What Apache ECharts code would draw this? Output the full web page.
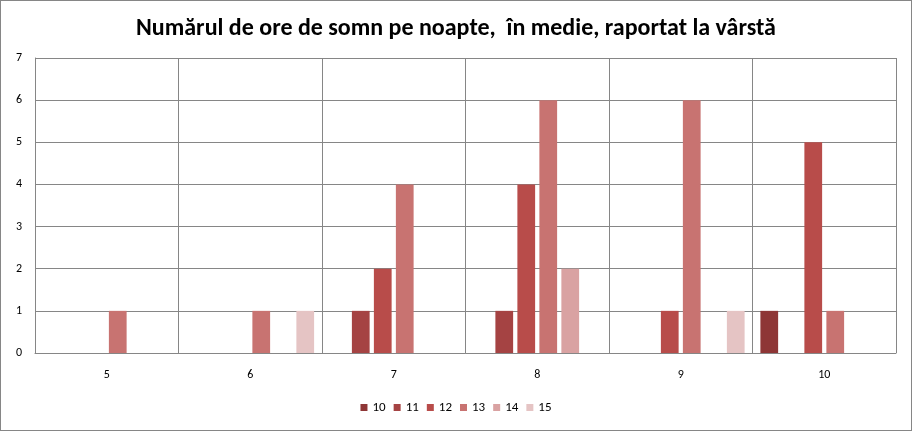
<!DOCTYPE html>
<html><head><meta charset="utf-8">
<script src="https://cdn.jsdelivr.net/npm/echarts@6/dist/echarts.min.js"></script>
<style>html,body{margin:0;padding:0;background:#fff}#c{width:912px;height:431px;box-sizing:border-box;border:1px solid #868686}</style>
</head><body><div id="c"></div>
<script>
const categories = ['5','6','7','8','9','10'];
const seriesNames = ['10','11','12','13','14','15'];
const s10 = [null,null,null,null,null,1];
const s11 = [null,null,1,1,null,null];
const s12 = [null,null,2,4,1,5];
const s13 = [1,1,4,6,6,1];
const s14 = [null,null,null,2,null,null];
const s15 = [null,1,null,null,1,null];
const yTicks = [0,1,2,3,4,5,6,7];
const colors = ['#8E3636','#A54343','#B84C4A','#C87371','#D9A2A2','#E5C4C4'];
const values = [s10,s11,s12,s13,s14,s15];
const font = 'Carlito, Calibri, "Liberation Sans", sans-serif';
const chart = echarts.init(document.getElementById('c'));
chart.setOption({
  animation:false,
  color: colors,
  title:{text:'Numărul de ore de somn pe noapte,  în medie, raportat la vârstă', left:'center', top:11,
    textStyle:{fontFamily:font, fontWeight:'bold', fontSize:24, color:'#000'}},
  legend:{bottom:11, left:'center', itemWidth:7, itemHeight:7, itemGap:8, icon:'rect',
    textStyle:{fontFamily:font, fontSize:13, color:'#000'}, data: seriesNames},
  grid:{left:34, right:15, top:57, bottom:77},
  xAxis:{type:'category', data:categories,
    axisLine:{lineStyle:{color:'#868686'}}, axisTick:{show:false},
    axisLabel:{fontFamily:font, fontSize:12, color:'#000', margin:16},
    splitLine:{show:true, lineStyle:{color:'#868686'}}},
  yAxis:{type:'value', min:yTicks[0], max:yTicks[yTicks.length-1], interval:1,
    axisLine:{show:true, lineStyle:{color:'#868686'}}, axisTick:{show:false},
    axisLabel:{fontFamily:font, fontSize:12, color:'#000', margin:13},
    splitLine:{lineStyle:{color:'#868686'}}},
  series: seriesNames.map((n,i)=>({name:n, type:'bar', data:values[i], barGap:'24%', barCategoryGap:'11%'}))
});
</script></body></html>
